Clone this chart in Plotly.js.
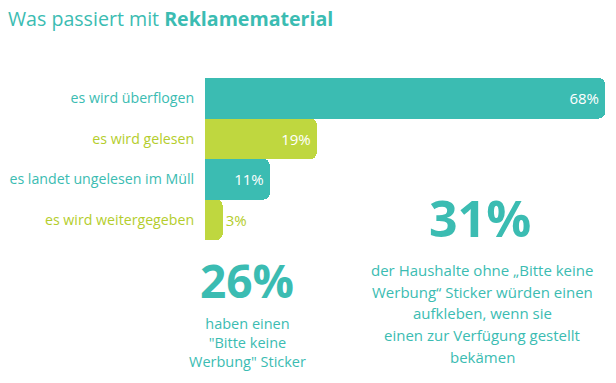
<!DOCTYPE html>
<html><head><meta charset="utf-8">
<script src="https://cdn.plot.ly/plotly-3.0.1.min.js"></script>
<style>body{margin:0;background:#fff}#c{width:616px;height:383px}</style>
</head><body><div id="c"></div>
<script>
const categories = ["es wird überflogen", "es wird gelesen", "es landet ungelesen im Müll", "es wird weitergegeben"];
const values = [68, 19, 11, 3];
const barColors = ["#3bbcb2", "#bfd73f", "#3bbcb2", "#bfd73f"];
const labelColors = ["#3bbcb2", "#b4cd2c", "#3bbcb2", "#b4cd2c"];
const stat1 = "26%";
const stat1Lines = ["haben einen", "\"Bitte keine", "Werbung\" Sticker"];
const stat2 = "31%";
const stat2Lines = ["der Haushalte ohne „Bitte keine", "Werbung“ Sticker würden einen", "aufkleben, wenn sie", "einen zur Verfügung gestellt", "bekämen"];

const teal = "#3bbcb2";
const FONT = "'Open Sans', sans-serif";

// plot area geometry (for placing annotations in paper coords)
const L = 205, R = 11, T = 78, B = 143, W = 616, H = 383;
const px = x => (x - L) / (W - L - R);
const py = y => (H - B - y) / (H - T - B);

const trace = {
  type: "bar", orientation: "h",
  y: categories, x: values,
  text: values.map(v => v + "%"),
  textposition: values.map(v => v < 5 ? "outside" : "inside"),
  insidetextanchor: "end", textangle: 0, constraintext: "none",
  textfont: {color: values.map((v, i) => v < 5 ? labelColors[i] : "#ffffff"), size: 15, family: FONT},
  marker: {color: barColors, cornerradius: 6},
  hoverinfo: "none", cliponaxis: false
};

const annotations = [
  {x: px(247), y: py(280), text: "<b>" + stat1 + "</b>", font: {size: 46, color: teal, family: FONT}},
  {x: px(480), y: py(218), text: "<b>" + stat2 + "</b>", font: {size: 50, color: teal, family: FONT}},
  {x: px(247), y: py(342), text: stat1Lines.join("<br>"), align: "center", font: {size: 14.5, color: teal, family: FONT}}
];
stat2Lines.forEach((t, i) => annotations.push({x: px(482), y: py(270 + i * 21.7), text: t,
  font: {size: 15, color: teal, family: FONT}}));
annotations.forEach(a => Object.assign(a, {xref: "paper", yref: "paper", xanchor: "center", yanchor: "middle", showarrow: false}));

const layout = {
  width: W, height: H,
  margin: {l: L, r: R, t: T, b: B},
  paper_bgcolor: "#fff", plot_bgcolor: "#fff",
  bargap: 0,
  showlegend: false,
  font: {family: FONT},
  title: {text: "Was passiert mit <b>Reklamematerial</b>", x: 0.013, xanchor: "left", y: 0.95, yanchor: "middle",
          font: {size: 19.6, color: teal, family: FONT}},
  xaxis: {range: [0, 68], visible: false, fixedrange: true},
  yaxis: {autorange: "reversed", tickmode: "array", tickvals: categories,
          ticktext: categories.map((c, i) => `<span style="color:${labelColors[i]}">${c}</span>`),
          ticks: "outside", ticklen: 7, tickcolor: "rgba(0,0,0,0)",
          tickfont: {size: 14.2, family: FONT}, showline: false, showgrid: false, zeroline: false},
  annotations: annotations
};

Plotly.newPlot("c", [trace], layout, {displayModeBar: false, staticPlot: true});
</script></body></html>
